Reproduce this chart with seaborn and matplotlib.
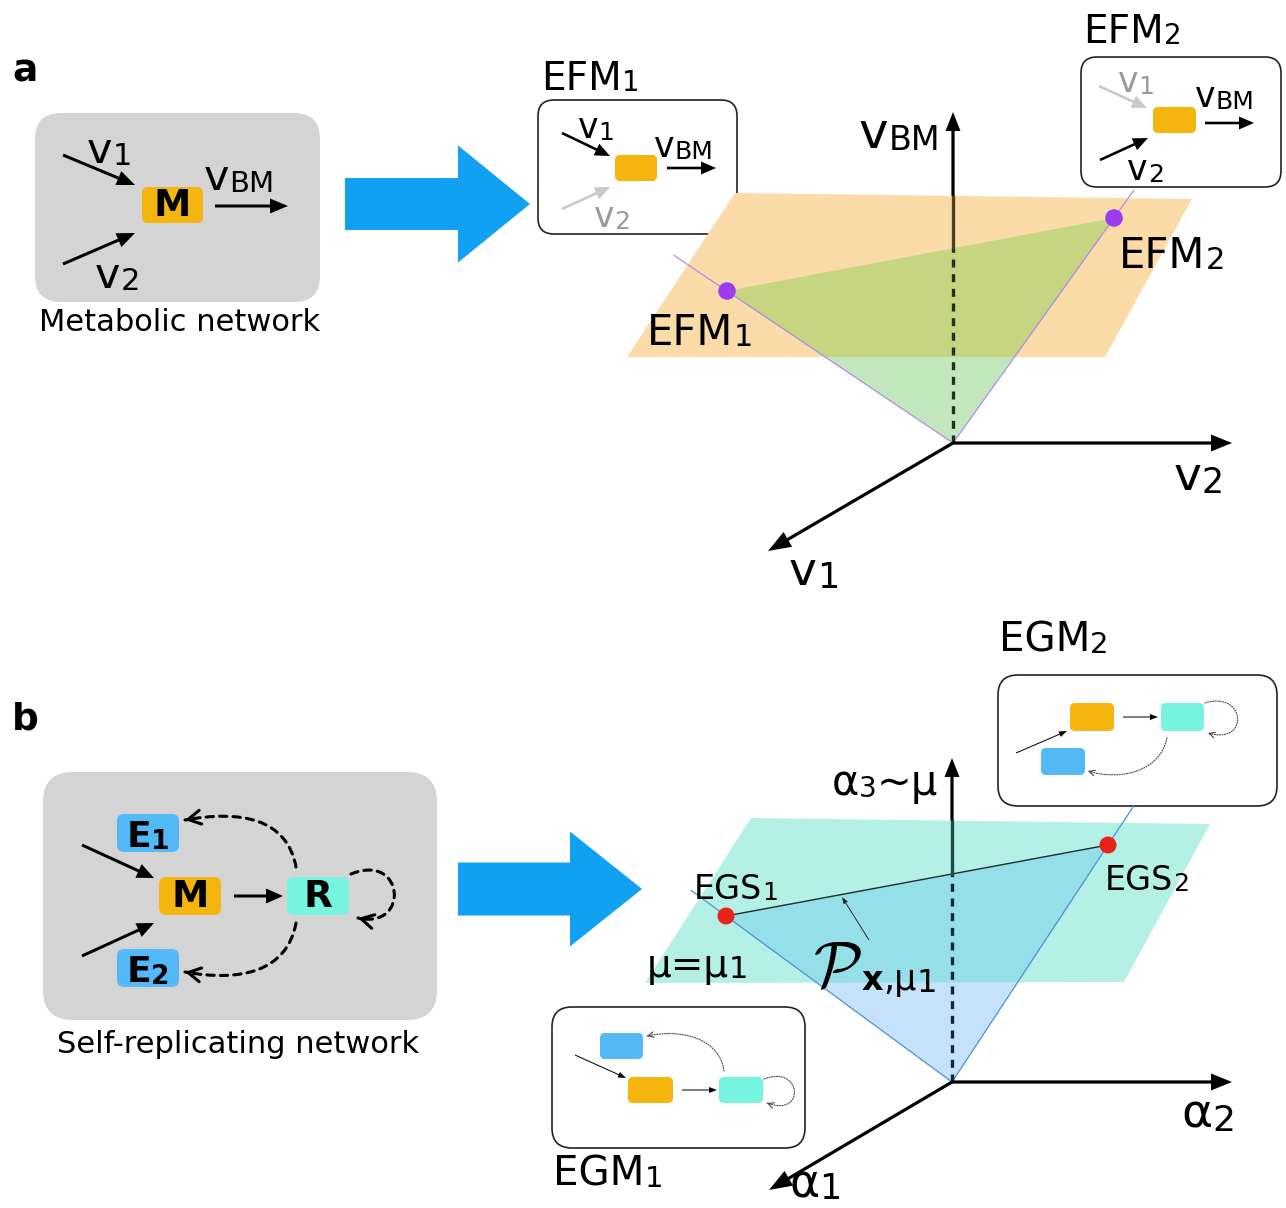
import matplotlib
matplotlib.use("Agg")
import matplotlib.pyplot as plt
from matplotlib.patches import FancyBboxPatch, Polygon, FancyArrowPatch
from matplotlib.path import Path
import numpy as np
import pandas as pd
import seaborn as sns

# ---------------- content ----------------
panel_labels = ["a", "b"]
network_titles = ["Metabolic network", "Self-replicating network"]
efm_names = ["EFM", "EFM"]
efm_subs = ["1", "2"]
egm_names = ["EGM", "EGM"]
egm_subs = ["1", "2"]
egs_names = ["EGS", "EGS"]
egs_subs = ["1", "2"]
flux_axis_labels = [("v", "BM"), ("v", "2"), ("v", "1")]
growth_axis_labels = [("α", "3", "~μ"), ("α", "2"), ("α", "1")]
node_names_b = ["E", "M", "R", "E"]
node_subs_b = ["1", "", "", "2"]

# schematic geometry (pixel coordinates of the drawing)
origin_a = (953, 443)
axis_tips_a = [(953, 112), (1232, 443), (768, 551)]
plane_a = [(735, 193), (1192, 199), (1105, 357), (627, 357)]
efm_x = [727, 1114]
efm_y = [291, 218]
ray_ext_a = [1.235, 1.124]      # how far the rays run past the modes

origin_b = (952, 1082)
axis_tips_b = [(952, 758), (1232, 1082), (769, 1190)]
plane_b = [(751, 818), (1210, 824), (1124, 982), (645, 983)]
egs_x = [726, 1108]
egs_y = [916, 845]
ray_ext_b = [1.155, 1.165]

# colours
ORANGE = "#f5b50f"
CYAN = "#76f4df"
BLUE = "#52b8f6"
GREY = "#d4d4d4"
BIGARROW = "#12a0f3"

sns.set_theme(style="white")
plt.rcParams["font.family"] = ["DejaVu Sans"]
plt.rcParams["text.color"] = "black"

W, H = 1286, 1208
fig = plt.figure(figsize=(W / 100, H / 100), dpi=100)
ax = fig.add_axes([0, 0, 1, 1])
ax.set_xlim(0, W)
ax.set_ylim(H, 0)
renderer = fig.canvas.get_renderer()


def rich(x, y, parts, ha="left", color="black", z=10):
    texts = []
    cur = x
    for p in parts:
        s, size = p[0], p[1]
        opt = dict(p[2]) if len(p) > 2 else {}
        dy = opt.pop("dy", 0)
        col = opt.pop("color", color)
        t = ax.text(cur, y + dy, s, fontsize=size, ha="left", va="baseline",
                    color=col, zorder=z, **opt)
        bb = t.get_window_extent(renderer)
        texts.append(t)
        cur += bb.width
    total = cur - x
    shift = {"left": 0, "center": -total / 2, "right": -total}[ha]
    for t in texts:
        px, py = t.get_position()
        t.set_position((px + shift, py))
    return texts


def arrow(p0, p1, lw=3.0, hw=15, hl=18, color="black", z=6):
    (x0, y0), (x1, y1) = p0, p1
    ax.arrow(x0, y0, x1 - x0, y1 - y0, width=lw, head_width=hw, head_length=hl,
             length_includes_head=True, fc=color, ec=color, lw=0, zorder=z)


def rbox(x0, y0, x1, y1, fc, ec="none", r=8, lw=1.3, z=2):
    p = FancyBboxPatch((x0, y0), x1 - x0, y1 - y0,
                       boxstyle=f"round,pad=0,rounding_size={r}",
                       fc=fc, ec=ec, lw=lw, zorder=z)
    ax.add_patch(p)
    return p


def curve(pts, ls, lw, color, hl, hw, z=6):
    path = Path(pts, [Path.MOVETO, Path.CURVE4, Path.CURVE4, Path.CURVE4])
    ax.add_patch(FancyArrowPatch(path=path, arrowstyle="-", lw=lw, ls=ls,
                                 color=color, zorder=z))
    p3 = np.array(pts[3], float)
    c2 = np.array(pts[2], float)
    d = (p3 - c2) / np.hypot(*(p3 - c2))
    hp = Path([p3 - d * 2.0, p3], [Path.MOVETO, Path.LINETO])
    ax.add_patch(FancyArrowPatch(path=hp, arrowstyle=f"->,head_length={hl},head_width={hw}",
                                 mutation_scale=1, lw=lw, color=color, zorder=z))


def rays(origin, xs, ys, ext, color):
    ox, oy = origin
    for px, py, k in zip(xs, ys, ext):
        ax.plot([ox, ox + k * (px - ox)], [oy, oy + k * (py - oy)],
                color=color, lw=0.9, zorder=4)


# ======================= panel a =======================
ax.text(12, 82, panel_labels[0], fontsize=27, fontweight="bold", va="baseline")

# metabolic network box
rbox(35, 113, 320, 302, GREY, r=26, z=1)
rbox(142, 187, 203, 223, ORANGE, r=6, z=3)
ax.text(172.5, 206, "M", fontsize=27, fontweight="bold", ha="center", va="center", zorder=10)
arrow((63, 155), (135, 185))
arrow((63, 264), (135, 233))
arrow((215, 206), (288, 206))
rich(87, 163, [("v", 31), ("1", 22, {"dy": 2})])
rich(204, 190, [("v", 31), ("BM", 21, {"dy": 2})])
rich(95, 288, [("v", 31), ("2", 22, {"dy": 2})])
ax.text(180, 331, network_titles[0], fontsize=22, ha="center", va="baseline")

# big arrow a
ax.arrow(345, 204, 185, 0, width=52, head_width=117, head_length=72,
         length_includes_head=True, fc=BIGARROW, ec="none", zorder=2)

# EFM1 box
rbox(538, 100, 737, 234, "white", ec="#222222", r=16, lw=1.2, z=0.5)
rich(541, 90, [(efm_names[0], 28), (efm_subs[0], 20, {"dy": 1})])
arrow((562, 133), (610, 156), lw=2.6, hw=13, hl=15)
rich(578, 138, [("v", 25), ("1", 18, {"dy": 2})])
rbox(615, 155, 657, 181, ORANGE, r=5, z=3)
arrow((667, 168), (716, 168), lw=2.6, hw=13, hl=15)
rich(654, 157, [("v", 25), ("BM", 18, {"dy": 2})])
arrow((562, 209), (610, 187), lw=2.6, hw=13, hl=15, color="#c9c9c9")
rich(594, 227, [("v", 25, {"color": "#9a9a9a"}), ("2", 18, {"dy": 2, "color": "#9a9a9a"})])

# EFM2 box
rbox(1081, 57, 1281, 187, "white", ec="#222222", r=16, lw=1.2, z=0.5)
rich(1083, 43, [(efm_names[1], 28), (efm_subs[1], 20, {"dy": 1})])
arrow((1099, 86), (1147, 108), lw=2.6, hw=13, hl=15, color="#c9c9c9")
rich(1118, 92, [("v", 25, {"color": "#9a9a9a"}), ("1", 18, {"dy": 2, "color": "#9a9a9a"})])
rbox(1153, 107, 1196, 133, ORANGE, r=5, z=3)
arrow((1205, 123), (1254, 123), lw=2.6, hw=13, hl=15)
rich(1195, 107, [("v", 25), ("BM", 18, {"dy": 2})])
arrow((1100, 160), (1148, 138), lw=2.6, hw=13, hl=15)
rich(1127, 180, [("v", 25), ("2", 18, {"dy": 2})])

# 3D sketch a
pa = Polygon(plane_a, closed=True, fc="#fbdca8", ec="none", zorder=1)
ax.add_patch(pa)
tri_a = [(efm_x[0], efm_y[0]), (efm_x[1], efm_y[1]), origin_a]
ax.add_patch(Polygon(tri_a, closed=True, fc="#c3e7bd", ec="none", zorder=2))
ov = Polygon(tri_a, closed=True, fc="#c7d480", ec="none", zorder=3)
ax.add_patch(ov)
ov.set_clip_path(pa)
rays(origin_a, efm_x, efm_y, ray_ext_a, "#a98ef0")
xa = origin_a[0]
y_edge_a = np.interp(xa, efm_x, efm_y)
y_top_plane_a = np.interp(xa, [plane_a[0][0], plane_a[1][0]], [plane_a[0][1], plane_a[1][1]])
ax.plot([xa, xa], [origin_a[1], y_edge_a], color="#1d3313", lw=2.4, ls=(0, (2.4, 2.0)), zorder=4.5)
ax.plot([xa, xa], [y_edge_a, y_top_plane_a], color="#4f3f1f", lw=2.4, zorder=4.5)
arrow((xa, y_top_plane_a), axis_tips_a[0], lw=3.2, hw=15, hl=19)
arrow(origin_a, axis_tips_a[1], lw=3.2, hw=17, hl=21)
arrow(origin_a, axis_tips_a[2], lw=3.2, hw=17, hl=23)
sns.scatterplot(x=efm_x, y=efm_y, ax=ax, s=160, color="#9b3cf0", edgecolor="none",
                zorder=8, legend=False)
rich(940, 148, [(flux_axis_labels[0][0], 36), (flux_axis_labels[0][1], 24, {"dy": 2})], ha="right")
rich(1174, 490, [(flux_axis_labels[1][0], 34), (flux_axis_labels[1][1], 25, {"dy": 3})])
rich(789, 585, [(flux_axis_labels[2][0], 34), (flux_axis_labels[2][1], 25, {"dy": 3})])
rich(647, 345, [(efm_names[0], 30), (efm_subs[0], 22, {"dy": 1})])
rich(1119, 268, [(efm_names[1], 30), (efm_subs[1], 22, {"dy": 1})])

# ======================= panel b =======================
ax.text(12, 730, panel_labels[1], fontsize=27, fontweight="bold", va="baseline")

rbox(43, 772, 437, 1020, GREY, r=30, z=1)
node_boxes = [(117, 814, 179, 852, BLUE), (159, 877, 221, 915, ORANGE),
              (287, 877, 349, 915, CYAN), (117, 949, 179, 987, BLUE)]
for (x0, y0, x1, y1, c), nm, sb in zip(node_boxes, node_names_b, node_subs_b):
    rbox(x0, y0, x1, y1, c, r=7, z=3)
    if sb:
        rich((x0 + x1) / 2, y1 - 5, [(nm, 26, {"fontweight": "bold"}),
                                     (sb, 19, {"fontweight": "bold", "dy": 2})], ha="center")
    else:
        ax.text((x0 + x1) / 2, (y0 + y1) / 2 + 1, nm, fontsize=27, fontweight="bold",
                ha="center", va="center", zorder=10)
arrow((82, 845), (154, 878), lw=3, hw=15, hl=17)
arrow((82, 956), (154, 923), lw=3, hw=15, hl=17)
arrow((234, 896), (283, 896), lw=3, hw=15, hl=17)
DASH = (0, (2.4, 2.0))
curve([(296, 867), (287, 818), (240, 810), (185, 820)], DASH, 2.2, "black", 9, 5)
curve([(296, 923), (287, 972), (240, 982), (185, 972)], DASH, 2.2, "black", 9, 5)
curve([(351, 874), (405, 852), (410, 930), (358, 918)], DASH, 2.2, "black", 9, 5)
ax.text(238, 1053, network_titles[1], fontsize=22, ha="center", va="baseline")

# big arrow b
ax.arrow(458, 889, 184, 0, width=53, head_width=115, head_length=72,
         length_includes_head=True, fc=BIGARROW, ec="none", zorder=2)

# EGM2 box
rbox(998, 675, 1277, 806, "white", ec="#222222", r=20, lw=1.2, z=0.5)
rich(999, 652, [(egm_names[1], 29), (egm_subs[1], 21, {"dy": 1})])
rbox(1070, 703, 1114, 731, ORANGE, r=5, z=3)
rbox(1161, 703, 1204, 731, CYAN, r=5, z=3)
rbox(1041, 748, 1085, 775, BLUE, r=5, z=3)
arrow((1123, 717), (1158, 717), lw=1.0, hw=6, hl=8)
arrow((1016, 753), (1067, 731), lw=1.0, hw=6, hl=8)
DOT = (0, (1, 1.3))
curve([(1167, 738), (1160, 772), (1120, 781), (1088, 771)], DOT, 0.8, "#444444", 4, 2)
curve([(1205, 703), (1246, 690), (1250, 746), (1208, 733)], DOT, 0.8, "#444444", 4, 2)

# EGM1 box
rbox(552, 1007, 805, 1148, "white", ec="#222222", r=20, lw=1.2, z=0.5)
rich(553, 1186, [(egm_names[0], 29), (egm_subs[0], 21, {"dy": 1})])
rbox(600, 1033, 643, 1059, BLUE, r=5, z=3)
rbox(628, 1077, 673, 1103, ORANGE, r=5, z=3)
rbox(719, 1077, 763, 1103, CYAN, r=5, z=3)
arrow((575, 1055), (626, 1078), lw=1.0, hw=6, hl=8)
arrow((682, 1090), (717, 1090), lw=1.0, hw=6, hl=8)
curve([(724, 1071), (720, 1040), (684, 1028), (647, 1036)], DOT, 0.8, "#444444", 4, 2)
curve([(764, 1079), (802, 1064), (806, 1118), (767, 1103)], DOT, 0.8, "#444444", 4, 2)

# 3D sketch b
pb = Polygon(plane_b, closed=True, fc="#b4f0e6", ec="none", zorder=1)
ax.add_patch(pb)
tri_b = [(egs_x[0], egs_y[0]), (egs_x[1], egs_y[1]), origin_b]
ax.add_patch(Polygon(tri_b, closed=True, fc="#c6e2fa", ec="none", zorder=2))
ovb = Polygon(tri_b, closed=True, fc="#95dfe9", ec="none", zorder=3)
ax.add_patch(ovb)
ovb.set_clip_path(pb)
rays(origin_b, egs_x, egs_y, ray_ext_b, "#4b92d6")
ax.plot(egs_x, egs_y, color="#1b2b2b", lw=1.0, zorder=4)
xb = origin_b[0]
y_edge_b = np.interp(xb, egs_x, egs_y)
y_top_plane_b = np.interp(xb, [plane_b[0][0], plane_b[1][0]], [plane_b[0][1], plane_b[1][1]])
ax.plot([xb, xb], [origin_b[1], y_edge_b], color="#0c2440", lw=2.4, ls=(0, (2.4, 2.0)), zorder=4.5)
ax.plot([xb, xb], [y_edge_b, y_top_plane_b], color="#1c4d48", lw=2.4, zorder=4.5)
arrow((xb, y_top_plane_b), axis_tips_b[0], lw=3.2, hw=15, hl=19)
arrow(origin_b, axis_tips_b[1], lw=3.2, hw=17, hl=21)
arrow(origin_b, axis_tips_b[2], lw=3.2, hw=17, hl=23)
arrow((869, 940), (842, 897), lw=0.9, hw=5, hl=7, color="#222222")
sns.scatterplot(x=egs_x, y=egs_y, ax=ax, s=150, color="#e8231a", edgecolor="none",
                zorder=8, legend=False)

g0 = growth_axis_labels[0]
rich(938, 795, [(g0[0], 30), (g0[1], 20, {"dy": 2}), (g0[2], 30)], ha="right")
rich(1181, 1128, [(growth_axis_labels[1][0], 34), (growth_axis_labels[1][1], 26, {"dy": 3})])
rich(789, 1197, [(growth_axis_labels[2][0], 33), (growth_axis_labels[2][1], 25, {"dy": 2})])
rich(694, 899, [(egs_names[0], 24), (egs_subs[0], 18, {"dy": 1})])
rich(1105, 890, [(egs_names[1], 24), (egs_subs[1], 18, {"dy": 1})])
rich(647, 977, [("μ=μ", 28), ("1", 22, {"dy": 1})])
rich(813, 986, [(r"$\mathcal{P}$", 46, {"math_fontfamily": "cm"}),
                ("x", 24, {"fontweight": "bold", "dy": 4}),
                (",μ", 25, {"dy": 4}), ("1", 23, {"dy": 6})])

ax.set_xlim(0, W)
ax.set_ylim(H, 0)
ax.set_axis_off()
fig.savefig("out.png", dpi=100)
